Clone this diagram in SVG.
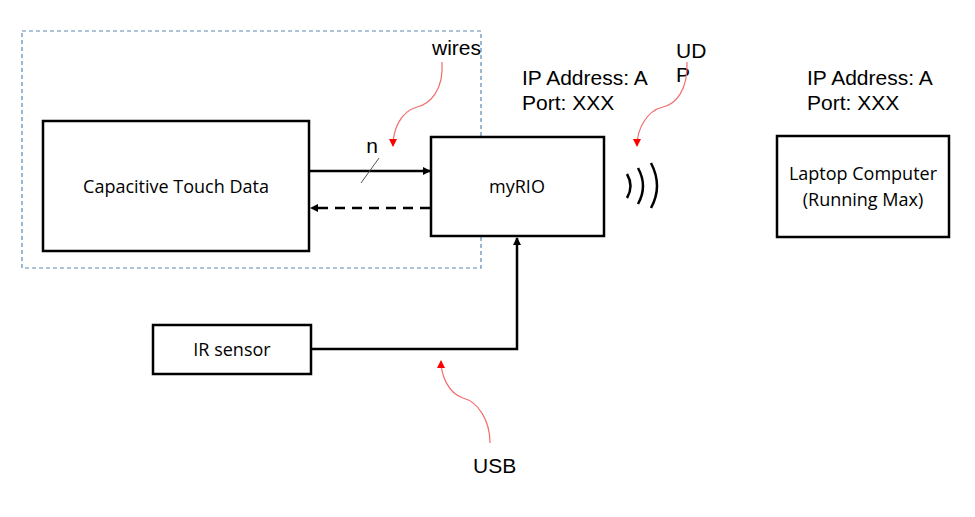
<svg xmlns="http://www.w3.org/2000/svg" width="975" height="517" viewBox="0 0 975 517">
<style>
.box{fill:#fff;stroke:#000;stroke-width:2.5}
.lbl{font-family:"Open Sans","Noto Sans",sans-serif;font-size:18px;fill:#000;text-anchor:middle}
.ann{font-family:"Liberation Sans",Arial,sans-serif;font-size:21px;fill:#000}
.conn{fill:none;stroke:#000;stroke-width:2.5}
.red{fill:none;stroke:#f26d6d;stroke-width:1.2}
</style>
<defs>
<marker id="ah" markerWidth="8" markerHeight="8" refX="7" refY="4" orient="auto" markerUnits="userSpaceOnUse"><path d="M0,0 L8,4 L0,8 Z" fill="#000"/></marker>
<marker id="rh" markerWidth="8" markerHeight="8" refX="7" refY="4" orient="auto" markerUnits="userSpaceOnUse"><path d="M0,0 L8,4 L0,8 Z" fill="#ff0000"/></marker>
</defs>
<rect x="22" y="31" width="459" height="237" fill="none" stroke="#5b87b4" stroke-width="1.2" stroke-dasharray="4,3"/>
<g id="connectors">
<line class="conn" x1="310" y1="171" x2="430" y2="171" marker-end="url(#ah)"/>
<line class="conn" x1="430" y1="208" x2="311" y2="208" stroke-dasharray="10,7" marker-end="url(#ah)"/>
<line x1="361" y1="183" x2="379" y2="158" stroke="#555" stroke-width="1"/>
<path class="conn" d="M311,349 L517,349 L517,238" marker-end="url(#ah)"/>
</g>
<g id="capacitive"><rect class="box" x="43" y="121" width="266" height="130"/><text class="lbl" x="176" y="193">Capacitive Touch Data</text></g>
<g id="myrio"><rect class="box" x="431" y="137" width="173" height="99"/><text class="lbl" x="517" y="193">myRIO</text></g>
<g id="laptop"><rect class="box" x="777" y="136" width="172" height="101"/><text class="lbl" x="863" y="180">Laptop Computer</text><text class="lbl" x="863" y="206">(Running Max)</text></g>
<g id="irsensor"><rect class="box" x="153" y="325" width="158" height="49"/><text class="lbl" x="232" y="356">IR sensor</text></g>
<g id="wifi" fill="none" stroke="#000" stroke-width="2.5">
<path d="M627,174 Q634,186 627,198"/>
<path d="M638,168 Q648,186 638,204"/>
<path d="M651,163 Q663,186 651,208"/>
</g>
<g id="labels">
<text class="ann" x="372" y="153" text-anchor="middle">n</text>
<text class="ann" x="432" y="55">wires</text>
<path class="red" d="M442,62 C444,90 430,104 417,107 C400,112 393,130 393,146" marker-end="url(#rh)"/>
<text class="ann" x="522" y="85">IP Address: A</text>
<text class="ann" x="522" y="110">Port: XXX</text>
<text class="ann" x="676" y="58">UD</text>
<text class="ann" x="676" y="82">P</text>
<path class="red" d="M687,62 C688,90 676,104 663,107 C646,111 637,130 637,146" marker-end="url(#rh)"/>
<text class="ann" x="807" y="85">IP Address: A</text>
<text class="ann" x="807" y="110">Port: XXX</text>
<path class="red" d="M490,443 C490,420 478,402 463,398 C448,393 441,375 441,361" marker-end="url(#rh)"/>
<text class="ann" x="473" y="473">USB</text>
</g>
</svg>
